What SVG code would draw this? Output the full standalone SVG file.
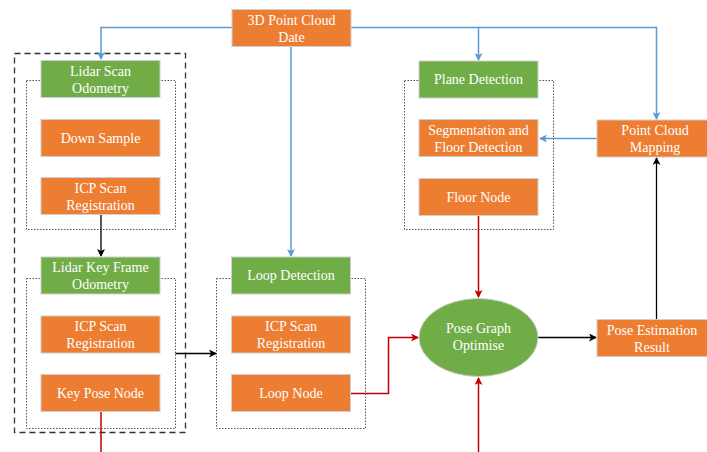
<svg xmlns="http://www.w3.org/2000/svg" width="707" height="452" viewBox="0 0 707 452">
<defs>
<marker id="ab" markerWidth="8" markerHeight="8" refX="7" refY="4" orient="auto" markerUnits="userSpaceOnUse"><path d="M0,0 L8,4 L0,8 L2,4 z" fill="#5B9BD5"/></marker>
<marker id="ak" markerWidth="8" markerHeight="8" refX="7" refY="4" orient="auto" markerUnits="userSpaceOnUse"><path d="M0,0 L8,4 L0,8 L2,4 z" fill="#000"/></marker>
<marker id="ar" markerWidth="8" markerHeight="8" refX="7" refY="4" orient="auto" markerUnits="userSpaceOnUse"><path d="M0,0 L8,4 L0,8 L2,4 z" fill="#C00000"/></marker>
</defs>
<style>
.o{fill:#ED7D31;stroke:#D0CECE;stroke-width:1}
.g{fill:#70AD47;stroke:#D0CECE;stroke-width:1}
.t{font-size:14px;fill:#fff;text-anchor:middle}
.dot{fill:none;stroke:#555;stroke-width:1;stroke-dasharray:1.5 1.5}
.dash{fill:none;stroke:#333;stroke-width:1.3;stroke-dasharray:6 4}
.bl{fill:none;stroke:#5B9BD5;stroke-width:1.5}
.bk{fill:none;stroke:#000;stroke-width:1.3}
.rd{fill:none;stroke:#C00000;stroke-width:1.5}
</style>
<rect width="707" height="452" fill="#fff"/>
<g id="containers">
<rect class="dash" x="14.5" y="53.5" width="171" height="379"/>
<rect class="dot" x="26.5" y="80.5" width="149" height="149"/>
<rect class="dot" x="26.5" y="278.5" width="149" height="150"/>
<rect class="dot" x="216.5" y="278.5" width="149" height="150"/>
<rect class="dot" x="404.5" y="80.5" width="149" height="149"/>
</g>
<g id="connectors">
<path class="bl" d="M232,27.5 H101 V59" marker-end="url(#ab)"/>
<path class="bl" d="M351,27.5 H656.5 V119" marker-end="url(#ab)"/>
<path class="bl" d="M478.5,27.5 V60" marker-end="url(#ab)"/>
<path class="bl" d="M291,46 V256" marker-end="url(#ab)"/>
<path class="bl" d="M597,138.5 H540" marker-end="url(#ab)"/>
<path class="bk" d="M101,215 V256" marker-end="url(#ak)"/>
<path class="bk" d="M175.5,353.5 H216" marker-end="url(#ak)"/>
<path class="bk" d="M538,337.5 H596" marker-end="url(#ak)"/>
<path class="bk" d="M656.5,319 V158" marker-end="url(#ak)"/>
<path class="rd" d="M101,411.5 V452"/>
<path class="rd" d="M478.5,215 V297" marker-end="url(#ar)"/>
<path class="rd" d="M478.5,452 V378" marker-end="url(#ar)"/>
<path class="rd" d="M351,393.5 H388.5 V337.5 H418" marker-end="url(#ar)"/>
</g>
<g font-family="'Liberation Serif', 'Times New Roman', 'DejaVu Serif', serif">
<g id="n-pointcloud"><rect class="o" x="232" y="9.5" width="119" height="37"/><text class="t" x="291.5" y="24.5">3D Point Cloud</text><text class="t" x="291.5" y="41.5">Date</text></g>
<g id="n-lso"><rect class="g" x="41" y="60.5" width="119" height="37"/><text class="t" x="100.5" y="75.5">Lidar Scan</text><text class="t" x="100.5" y="92.5">Odometry</text></g>
<g id="n-down"><rect class="o" x="41" y="119.5" width="119" height="37"/><text class="t" x="100.5" y="142.5">Down Sample</text></g>
<g id="n-icp1"><rect class="o" x="41" y="177.5" width="119" height="37"/><text class="t" x="100.5" y="192.5">ICP Scan</text><text class="t" x="100.5" y="209.5">Registration</text></g>
<g id="n-lkf"><rect class="g" x="41" y="257" width="119" height="37"/><text class="t" x="100.5" y="272">Lidar Key Frame</text><text class="t" x="100.5" y="289">Odometry</text></g>
<g id="n-icp2"><rect class="o" x="41" y="316" width="119" height="37"/><text class="t" x="100.5" y="331">ICP Scan</text><text class="t" x="100.5" y="348">Registration</text></g>
<g id="n-keypose"><rect class="o" x="41" y="374.5" width="119" height="37"/><text class="t" x="100.5" y="397.5">Key Pose Node</text></g>
<g id="n-loopdet"><rect class="g" x="231.5" y="257" width="119" height="37"/><text class="t" x="291" y="280">Loop Detection</text></g>
<g id="n-icp3"><rect class="o" x="231.5" y="316" width="119" height="37"/><text class="t" x="291" y="331">ICP Scan</text><text class="t" x="291" y="348">Registration</text></g>
<g id="n-loopnode"><rect class="o" x="231.5" y="374.5" width="119" height="37"/><text class="t" x="291" y="397.5">Loop Node</text></g>
<g id="n-plane"><rect class="g" x="419" y="61" width="119" height="37"/><text class="t" x="478.5" y="84">Plane Detection</text></g>
<g id="n-seg"><rect class="o" x="419" y="119.5" width="119" height="37"/><text class="t" x="478.5" y="134.5">Segmentation and</text><text class="t" x="478.5" y="151.5">Floor Detection</text></g>
<g id="n-floor"><rect class="o" x="419" y="178.5" width="119" height="37"/><text class="t" x="478.5" y="201.5">Floor Node</text></g>
<g id="n-pcm"><rect class="o" x="597" y="120" width="112" height="37"/><text class="t" x="655" y="135">Point Cloud</text><text class="t" x="655" y="152">Mapping</text></g>
<g id="n-pgo"><ellipse cx="478.5" cy="337.5" rx="59.5" ry="39" fill="#70AD47" stroke="#D0CECE"/><text class="t" x="478.5" y="333">Pose Graph</text><text class="t" x="478.5" y="350">Optimise</text></g>
<g id="n-pose"><rect class="o" x="597" y="319.5" width="112" height="37"/><text class="t" x="652" y="334.5">Pose Estimation</text><text class="t" x="652" y="351.5">Result</text></g>
</g>
</svg>
